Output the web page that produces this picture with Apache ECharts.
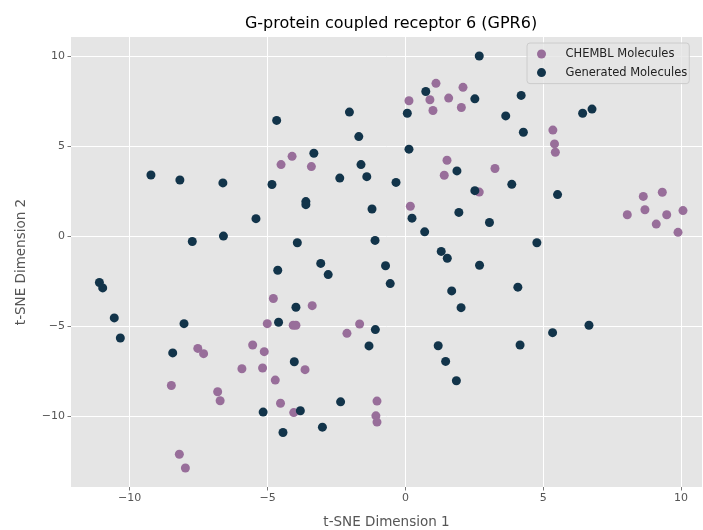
<!DOCTYPE html>
<html>
<head>
<meta charset="utf-8">
<script src="https://cdn.jsdelivr.net/npm/echarts@6/dist/echarts.min.js"></script>
<style>
  html, body { margin: 0; padding: 0; background: #ffffff; }
  #chart { width: 703px; height: 530px; }
</style>
</head>
<body>
<div id="chart"></div>
<script>
// t-SNE embedding coordinates [dim1, dim2]
const chemblPoints = [
  [-4.51, 3.98], [-4.11, 4.44], [-3.41, 3.87],
  [1.11, 8.50], [2.09, 8.28], [0.13, 7.53], [0.89, 7.59], [1.57, 7.68],
  [1.00, 6.99], [2.03, 7.16], [1.51, 4.22], [1.41, 3.39], [3.25, 3.76],
  [5.35, 5.90], [5.41, 5.13], [5.44, 4.67], [2.68, 2.45], [0.18, 1.66],
  [8.63, 2.21], [9.32, 2.44], [8.05, 1.19], [8.69, 1.47], [9.48, 1.19],
  [10.07, 1.42], [9.10, 0.67], [9.89, 0.21],
  [-4.79, -3.47], [-5.01, -4.87], [-4.07, -4.96], [-3.97, -4.96],
  [-3.38, -3.87], [-1.66, -4.89], [-2.12, -5.41],
  [-7.53, -6.25], [-7.32, -6.54], [-5.54, -6.06], [-5.12, -6.43],
  [-5.93, -7.38], [-5.18, -7.34], [-4.72, -8.01], [-8.49, -8.31],
  [-6.81, -8.66], [-6.72, -9.16], [-4.53, -9.30], [-4.05, -9.82],
  [-3.64, -7.43], [-1.03, -9.18], [-1.07, -10.00], [-1.03, -10.35],
  [-8.20, -12.14], [-7.98, -12.90]
];

const generatedPoints = [
  [-4.67, 6.44], [-9.23, 3.40], [-8.18, 3.12], [-6.62, 2.96], [-4.84, 2.87],
  [2.68, 10.02], [0.74, 8.05], [2.52, 7.64], [-2.03, 6.90], [0.07, 6.84],
  [-1.69, 5.54], [0.13, 4.84], [-3.32, 4.61], [-1.61, 3.98], [-2.38, 3.23],
  [-1.40, 3.31], [-0.34, 2.99], [1.87, 3.63], [2.52, 2.53],
  [4.20, 7.83], [3.64, 6.69], [4.28, 5.78], [6.43, 6.84], [6.77, 7.07],
  [3.86, 2.88], [5.52, 2.31],
  [-5.42, 0.97], [-6.60, 0.00], [-7.73, -0.30], [-4.63, -1.90],
  [-11.10, -2.58], [-10.98, -2.88], [-10.56, -4.55], [-8.03, -4.87],
  [-4.60, -4.79], [-10.34, -5.67],
  [-3.61, 1.92], [-3.61, 1.75], [-1.21, 1.51], [0.24, 1.00], [1.94, 1.32],
  [3.05, 0.76], [0.70, 0.24], [-3.92, -0.37], [-1.10, -0.24],
  [1.30, -0.85], [1.52, -1.23], [2.69, -1.62], [-3.07, -1.52], [-2.80, -2.14],
  [-0.72, -1.65], [-0.55, -2.64], [1.68, -3.05], [2.02, -3.98],
  [-3.97, -3.96], [-1.09, -5.20],
  [4.77, -0.37], [4.08, -2.84], [6.66, -4.96], [5.34, -5.37],
  [-8.44, -6.50], [-5.16, -9.79], [-4.44, -10.93],
  [-1.32, -6.11], [-4.03, -6.99], [1.19, -6.10], [1.46, -6.97], [1.85, -8.05],
  [-2.35, -9.22], [-3.81, -9.72], [-3.01, -10.63], [4.16, -6.06]
];

const xTicks = [-10, -5, 0, 5, 10];
const yTicks = [-10, -5, 0, 5, 10];

const seriesNames = ['CHEMBL Molecules', 'Generated Molecules'];
const seriesColors = ['#986e9a', '#12344a'];

const FONT = 'DejaVu Sans';
const minusSign = v => String(v).replace('-', '\u2212');

const chart = echarts.init(document.getElementById('chart'), null, { renderer: 'canvas' });

function valueAxis(ticks, range, name, isX) {
  return {
    type: 'value',
    min: range[0],
    max: range[1],
    name: name,
    nameLocation: 'middle',
    nameGap: isX ? 28 : 43,
    nameTextStyle: { fontFamily: FONT, fontSize: 13.5, color: '#555555' },
    axisLine: { show: false, onZero: false },
    axisTick: {
      show: true, inside: false, length: 3.5,
      customValues: ticks,
      lineStyle: { color: '#555555', width: 0.8 }
    },
    axisLabel: {
      customValues: ticks,
      fontFamily: FONT, fontSize: 11, color: '#555555',
      margin: 6,
      formatter: minusSign
    },
    splitLine: { show: true, lineStyle: { color: '#ffffff', width: 1 } }
  };
}

chart.setOption({
  animation: false,
  backgroundColor: '#ffffff',
  title: {
    text: 'G-protein coupled receptor 6 (GPR6)',
    left: 386,
    textAlign: 'center',
    top: 11,
    textStyle: { fontFamily: FONT, fontSize: 16, fontWeight: 'normal', color: '#000000' }
  },
  grid: {
    left: 71, right: 1, top: 37, bottom: 43,
    containLabel: false,
    outerBoundsMode: 'none',
    show: true, backgroundColor: '#e5e5e5', borderWidth: 0
  },
  legend: {
    data: seriesNames.map(n => ({ name: n, icon: 'circle' })),
    orient: 'vertical',
    left: 527,
    top: 43,
    padding: [4, 2, 4, 10],
    itemWidth: 14,
    itemHeight: 9,
    itemGap: 4.6,
    backgroundColor: 'rgba(229,229,229,0.8)',
    borderColor: '#cccccc',
    borderWidth: 1,
    borderRadius: 3,
    textStyle: {
      fontFamily: FONT, fontSize: 11.5, color: '#222222',
      lineHeight: 14, padding: [0, 0, 0, 12]
    }
  },
  xAxis: valueAxis(xTicks, [-12.13, 10.76], 't-SNE Dimension 1', true),
  yAxis: valueAxis(yTicks, [-13.96, 11.08], 't-SNE Dimension 2', false),
  series: [
    {
      name: seriesNames[0],
      type: 'scatter',
      data: chemblPoints,
      symbolSize: 9,
      itemStyle: { color: seriesColors[0], opacity: 1 }
    },
    {
      name: seriesNames[1],
      type: 'scatter',
      data: generatedPoints,
      symbolSize: 9,
      itemStyle: { color: seriesColors[1], opacity: 1 }
    }
  ]
});
</script>
</body>
</html>
